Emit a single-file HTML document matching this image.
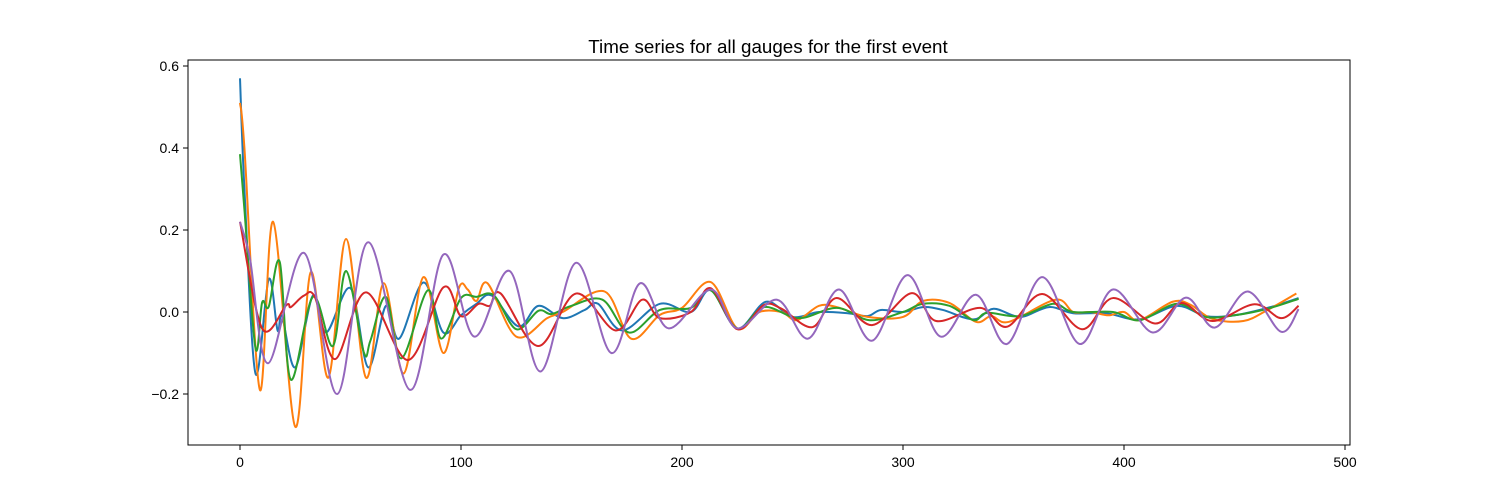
<!DOCTYPE html>
<html><head><meta charset="utf-8">
<style>
body{margin:0;background:#fff;}
svg{display:block;font-family:"Liberation Sans","DejaVu Sans",sans-serif;}
</style></head>
<body>
<svg id="chart" width="1500" height="500" viewBox="0 0 1500 500">
<text x="768" y="53" font-size="18.8" text-anchor="middle">Time series for all gauges for the first event</text>
<g id="series"></g>
<rect x="188" y="60" width="1162" height="385" fill="none" stroke="#000" stroke-width="1"/>
<g id="axes"></g>
</svg>
<script>
const xTicks=[0,100,200,300,400,500];
const yTicks=[-0.2,0.0,0.2,0.4,0.6];
const yTickLabels=["\u22120.2","0.0","0.2","0.4","0.6"];
const colors=["#1f77b4","#ff7f0e","#2ca02c","#d62728","#9467bd"];
const seriesNames=["gauge-1","gauge-2","gauge-3","gauge-4","gauge-5"];

const g1x=[0,2,7,13,17,19,25,33,39,50,58,66,72,83,92,100,107,114,126,135,146,156,162,173,190,204,213,225,238,250,262,275,284,290,300,309,318,332,341,353,366,377,392,407,424,437,450,465,479];
const g1y=[0.57,0.3,-0.15,0.08,-0.045,-0.01,-0.135,0.04,-0.05,0.058,-0.135,0.015,-0.065,0.072,-0.05,-0.008,0.02,0.04,-0.035,0.015,-0.015,0.005,0.02,-0.045,0.02,0.0,0.053,-0.04,0.025,-0.012,0.0,-0.003,-0.01,0.005,0.0,0.012,0.005,-0.018,0.008,-0.012,0.012,-0.003,-0.003,-0.018,0.015,-0.01,-0.008,0.01,0.034];

const g2x=[0,2,9,15,25,32,40,48,57,65,74,83,92,99,103,107,112,125,139,146,165,177,190,200,213,225,235,245,252,262,270,284,300,309,321,333,340,348,369,377,385,393,400,407,422,430,440,454,465,478];
const g2y=[0.51,0.4,-0.19,0.22,-0.28,0.097,-0.16,0.178,-0.16,0.07,-0.15,0.085,-0.1,0.058,0.055,0.027,0.07,-0.06,-0.015,0.0,0.05,-0.065,-0.007,0.01,0.073,-0.04,0.0,0.0,-0.02,0.015,0.012,-0.012,-0.012,0.027,0.022,-0.024,-0.01,-0.024,0.03,0.0,0.0,-0.008,0.0,-0.02,0.025,0.018,-0.017,-0.022,0.005,0.045];

const g3x=[0,2,7,10,13,18,23,33,42,48,56,59,66,73,85,91,100,107,115,125,135,141,150,164,176,190,204,213,225,237,253,270,285,300,309,321,332,338,353,368,377,395,407,424,437,450,465,479];
const g3y=[0.385,0.25,-0.088,0.023,0.013,0.122,-0.165,0.037,-0.083,0.1,-0.098,-0.07,0.037,-0.113,0.053,-0.065,0.034,0.037,0.04,-0.042,0.003,-0.005,0.015,0.03,-0.05,0.005,0.01,0.053,-0.04,0.012,-0.015,0.01,-0.02,0.0,0.02,0.015,-0.02,-0.002,-0.01,0.02,0.0,0.0,-0.02,0.02,-0.012,-0.008,0.008,0.032];

const g4x=[0,10,21,23,29,34,43,57,76,92,100,108,113,118,135,152,170,182,190,204,213,225,237,245,259,270,286,304,315,335,347,363,381,395,414,426,440,459,471,479];
const g4y=[0.22,-0.04,0.017,0.012,0.04,0.035,-0.115,0.048,-0.117,0.06,-0.01,0.02,0.015,0.045,-0.083,0.045,-0.045,0.03,-0.015,0.0,0.058,-0.042,0.017,0.008,-0.037,0.034,-0.032,0.046,-0.022,0.01,-0.036,0.044,-0.042,0.034,-0.028,0.022,-0.022,0.019,-0.015,0.015];

const g5x=[0,4.5,12.7,29,44,58,77,92,106,122,136,152,168,181,194,213,225,243,257,271,286,302,317,333,347,363,380,395,413,428,441,456,471,479];
const g5y=[0.22,0.13,-0.125,0.144,-0.2,0.17,-0.19,0.14,-0.06,0.1,-0.145,0.12,-0.1,0.07,-0.04,0.055,-0.04,0.03,-0.065,0.055,-0.07,0.09,-0.06,0.042,-0.078,0.085,-0.078,0.055,-0.05,0.035,-0.038,0.05,-0.048,0.007];

const allX=[g1x,g2x,g3x,g4x,g5x];
const allY=[g1y,g2y,g3y,g4y,g5y];

const X0=240, XS=2.21, Y0=312, YS=410;
function sx(v){return X0+v*XS;}
function sy(v){return Y0-v*YS;}
const NS="http://www.w3.org/2000/svg";

function smoothPath(xs,ys){
  const p=xs.map((x,i)=>[sx(x),sy(ys[i])]);
  let d="M"+p[0][0].toFixed(2)+","+p[0][1].toFixed(2);
  for(let i=0;i<p.length-1;i++){
    const p0=p[i-1]||p[i],p1=p[i],p2=p[i+1],p3=p[i+2]||p[i+1];
    const c1=[p1[0]+(p2[0]-p0[0])/6,p1[1]+(p2[1]-p0[1])/6];
    const c2=[p2[0]-(p3[0]-p1[0])/6,p2[1]-(p3[1]-p1[1])/6];
    d+="C"+c1[0].toFixed(2)+","+c1[1].toFixed(2)+" "+c2[0].toFixed(2)+","+c2[1].toFixed(2)+" "+p2[0].toFixed(2)+","+p2[1].toFixed(2);
  }
  return d;
}
const sg=document.getElementById("series");
for(let s=0;s<allX.length;s++){
  const path=document.createElementNS(NS,"path");
  path.setAttribute("d",smoothPath(allX[s],allY[s]));
  path.setAttribute("fill","none");
  path.setAttribute("stroke",colors[s]);
  path.setAttribute("stroke-width","2");
  path.setAttribute("stroke-linejoin","round");
  
  
  sg.appendChild(path);
}
const ag=document.getElementById("axes");
xTicks.forEach(t=>{
  const x=sx(t);
  const l=document.createElementNS(NS,"line");
  l.setAttribute("x1",x);l.setAttribute("x2",x);l.setAttribute("y1",445);l.setAttribute("y2",450);
  l.setAttribute("stroke","#000");
  
  
  ag.appendChild(l);
  const tx=document.createElementNS(NS,"text");
  tx.setAttribute("x",x);tx.setAttribute("y",467);tx.setAttribute("font-size","14");tx.setAttribute("text-anchor","middle");
  tx.textContent=String(t);
  
  
  ag.appendChild(tx);
});
yTicks.forEach((t,i)=>{
  const y=sy(t);
  const l=document.createElementNS(NS,"line");
  l.setAttribute("x1",183);l.setAttribute("x2",188);l.setAttribute("y1",y);l.setAttribute("y2",y);
  l.setAttribute("stroke","#000");
  
  
  ag.appendChild(l);
  const tx=document.createElementNS(NS,"text");
  tx.setAttribute("x",179);tx.setAttribute("y",y+5);tx.setAttribute("font-size","14");tx.setAttribute("text-anchor","end");
  tx.textContent=yTickLabels[i];
  
  
  ag.appendChild(tx);
});
</script>
</body></html>
